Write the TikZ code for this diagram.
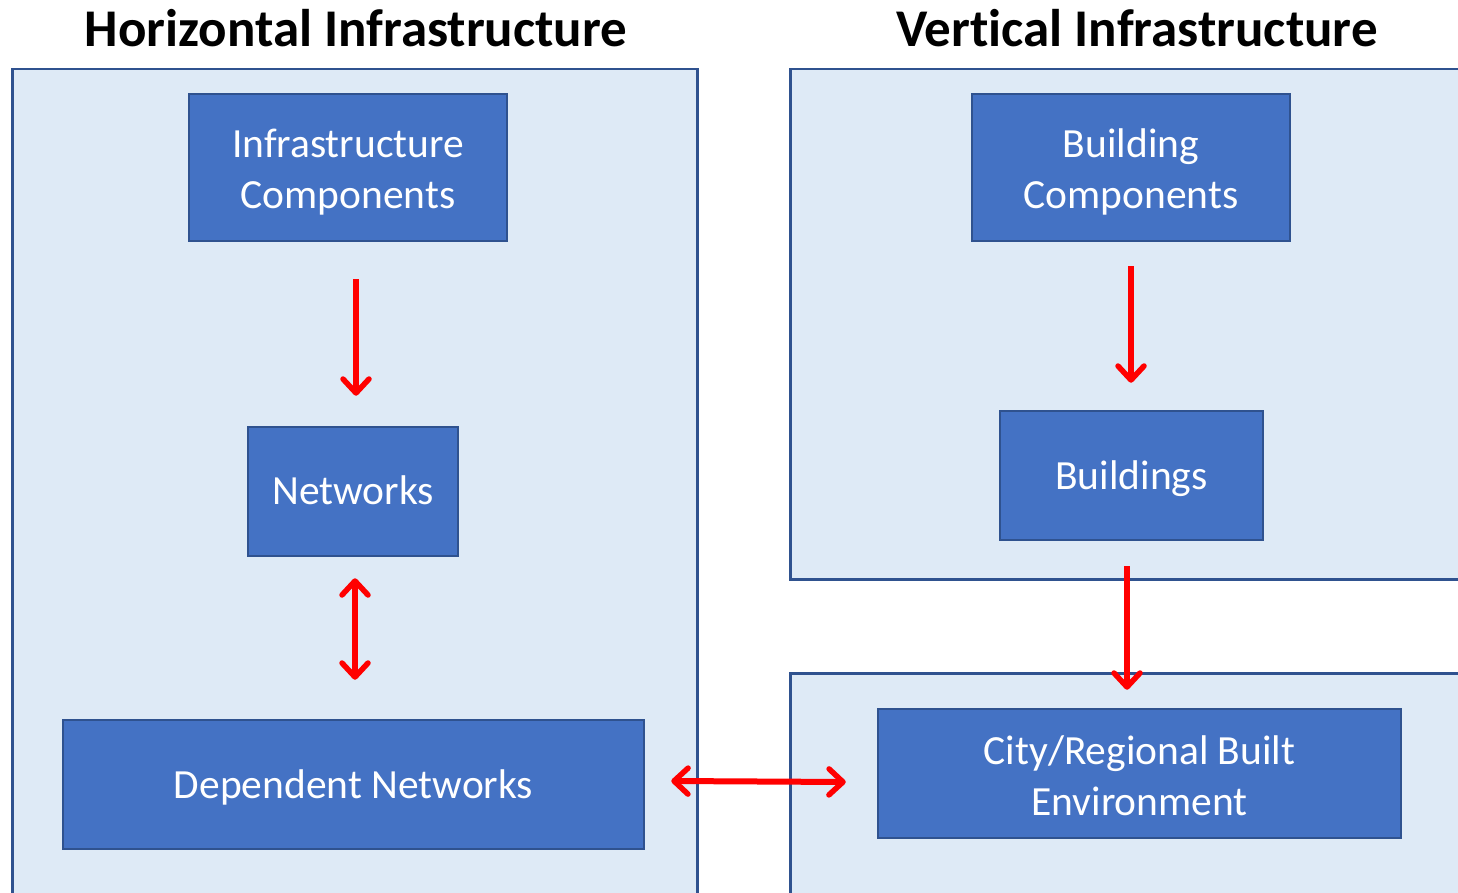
\documentclass[tikz,border=0pt]{standalone}
\usepackage{fontspec}
\setmainfont{Carlito}[Ligatures=NoCommon]
\usetikzlibrary{arrows.meta,calc}

\definecolor{panelfill}{HTML}{DEEAF6}
\definecolor{edgeblue}{HTML}{2F528F}
\definecolor{boxblue}{HTML}{4472C4}
\definecolor{arrowred}{HTML}{FF0000}

\tikzset{
  panel/.style={draw=edgeblue, fill=panelfill, line width=2.5pt, rectangle, inner sep=0pt},
  item/.style={draw=edgeblue, fill=boxblue, line width=2.5pt, rectangle, inner sep=0pt},
  itemtext/.style={text=white, align=center, inner sep=0pt, anchor=base,
    font=\fontsize{41.5}{51}\selectfont},
  heading/.style={font=\bfseries\fontsize{53}{60}\selectfont, inner sep=0pt},
  barb/.tip={Straight Barb[length=14pt,width=26pt,line width=5.5pt,round]},
  link/.style={draw=arrowred, line width=6pt, -barb},
  biglink/.style={draw=arrowred, line width=6pt, barb-barb},
}

\begin{document}
\begin{tikzpicture}[x=1pt, y=-1pt]
  \useasboundingbox (0,0) rectangle (1458,893);
  \clip (0,0) rectangle (1458,893);

  % panels
  \node[panel, minimum width=685pt, minimum height=840pt, anchor=north west] (horiz) at (11,68) {};
  \node[panel, minimum width=700pt, minimum height=510pt, anchor=north west] (vtop) at (789,68) {};
  \node[panel, minimum width=700pt, minimum height=260pt, anchor=north west] (vbot) at (789,672) {};

  % headings
  \node[heading] (htitle) at (356,28) {Horizontal Infrastructure};
  \node[heading] (vtitle) at (1137,28) {Vertical Infrastructure};

  % boxes
  \node[item, minimum width=318pt, minimum height=147pt] (ic) at (348,167.5) {};
  \node[item, minimum width=210pt, minimum height=129pt] (net) at (353,491.5) {};
  \node[item, minimum width=581pt, minimum height=129pt] (dep) at (353.5,784.5) {};
  \node[item, minimum width=318pt, minimum height=147pt] (bc) at (1131,167.5) {};
  \node[item, minimum width=263pt, minimum height=129pt] (bld) at (1131.5,475.5) {};
  \node[item, minimum width=523pt, minimum height=129pt] (city) at (1139.5,773.5) {};

  % box texts, placed on the baseline of their last line
  \node[itemtext] (ic-t) at ($(ic.center)+(0,41.5)$) {Infrastructure\\Components};
  \node[itemtext] (net-t) at ($(net.center)+(0,13)$) {Networks};
  \node[itemtext] (dep-t) at ($(dep.center)+(0,13.5)$) {Dependent Networks};
  \node[itemtext] (bc-t) at ($(bc.center)+(0,41.5)$) {Building\\Components};
  \node[itemtext] (bld-t) at ($(bld.center)+(0,14)$) {Buildings};
  \node[itemtext] (city-t) at ($(city.center)+(0,41.5)$) {City/Regional Built\\Environment};

  % arrow end points
  \coordinate (icA) at ($(ic.south)+(8,37)$);
  \coordinate (netA) at ($(net.north)+(3,-30)$);
  \coordinate (netB) at ($(net.south)+(2,21)$);
  \coordinate (depA) at ($(dep.north)+(1.5,-39)$);
  \coordinate (bcA) at ($(bc.south)+(0,24)$);
  \coordinate (bldA) at ($(bld.north)+(-0.5,-27)$);
  \coordinate (bldB) at ($(bld.south)+(-4.5,25)$);
  \coordinate (cityA) at ($(city.north)+(-12.5,-18)$);
  \coordinate (depB) at ($(dep.east)+(26,-3.5)$);
  \coordinate (cityB) at ($(city.west)+(-31,8.5)$);

  % connectors
  \draw[link] (icA) -- (netA);
  \draw[biglink] (netB) -- (depA);
  \draw[link] (bcA) -- (bldA);
  \draw[link] (bldB) -- (cityA);
  \draw[biglink] (depB) -- (cityB);
\end{tikzpicture}
\end{document}
